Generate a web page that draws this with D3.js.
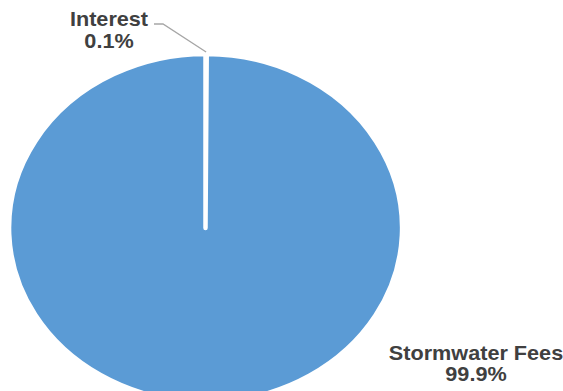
<!DOCTYPE html>
<html>
<head>
<meta charset="utf-8">
<script src="https://cdn.jsdelivr.net/npm/d3@7"></script>
<style>
  html, body { margin: 0; padding: 0; background: #fff; }
  svg { display: block; }
  text { font-family: "Liberation Sans", Arial, sans-serif; font-weight: bold; fill: #404040; }
</style>
</head>
<body>
<svg id="chart" width="563" height="391"></svg>
<script>
// Revenue sources
const categories = ["Interest", "Stormwater Fees"];
const shares = [0.1, 99.9];
const shareLabels = ["0.1%", "99.9%"];

const width = 563, height = 391;
const cx = 205.5, cy = 228;
const ry = 174, rx = 196.5;

const svg = d3.select("#chart");

const pie = d3.pie().sort(null).value(d => d.value);
const slices = pie(categories.map((c, i) => ({ name: c, value: shares[i], label: shareLabels[i] })));

const arc = d3.arc().innerRadius(0).outerRadius(ry);

const g = svg.append("g")
  .attr("transform", `translate(${cx},${cy}) scale(${rx / ry},1)`);

g.selectAll("path")
  .data(slices)
  .join("path")
  .attr("d", arc)
  .attr("fill", "#5b9bd5")
  .attr("stroke", "#fff")
  .attr("stroke-width", 4.5)
  .attr("stroke-linejoin", "round")
  .attr("vector-effect", "non-scaling-stroke");

// Leader line for the thin Interest slice
const interest = slices[0];
const mid = (interest.startAngle + interest.endAngle) / 2;
const tip = [cx + Math.sin(mid) * rx, cy - Math.cos(mid) * (ry + 2)];
svg.append("polyline")
  .attr("points", [[154, 24], [163, 24], tip].map(p => p.join(",")).join(" "))
  .attr("fill", "none")
  .attr("stroke", "#a6a6a6")
  .attr("stroke-width", 1.3);

// Data labels
const labelPos = [
  { x: 109, y1: 26, y2: 48 },
  { x: 476, y1: 360, y2: 381 }
];

slices.forEach((s, i) => {
  const p = labelPos[i];
  const t = svg.append("g").attr("transform", `translate(${p.x},0) scale(1.11,1)`);
  t.append("text")
    .attr("x", 0).attr("y", p.y1)
    .attr("text-anchor", "middle")
    .attr("font-size", 19.5)
    .text(s.data.name);
  t.append("text")
    .attr("x", 0).attr("y", p.y2)
    .attr("text-anchor", "middle")
    .attr("font-size", 19.5)
    .text(s.data.label);
});
</script>
</body>
</html>
